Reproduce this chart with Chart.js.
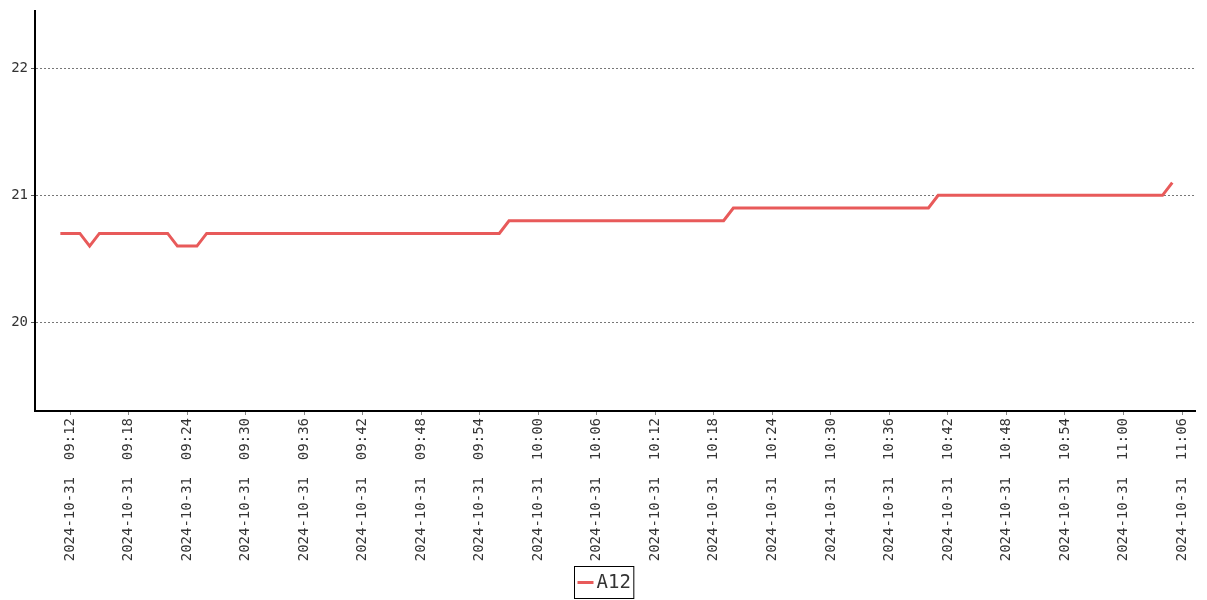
<!DOCTYPE html>
<html>
<head>
<meta charset="utf-8">
<script src="https://cdn.jsdelivr.net/npm/chart.js@4.4.1/dist/chart.umd.min.js"></script>
<style>
  html, body { margin: 0; padding: 0; background: #fff; }
  #wrap { width: 1207px; height: 600px; }
</style>
</head>
<body>
<div id="wrap"><canvas id="c" width="1207" height="600"></canvas></div>
<script>
const seriesName = "A12";
const datePrefix = "2024-10-31";
const tickTimes = ["09:12","09:18","09:24","09:30","09:36","09:42","09:48","09:54","10:00","10:06",
                   "10:12","10:18","10:24","10:30","10:36","10:42","10:48","10:54","11:00","11:06"];
const yTicks = [20, 21, 22];
const times = [
  "09:11","09:12","09:13","09:14","09:15","09:16","09:17","09:18","09:19","09:20",
  "09:21","09:22","09:23","09:24","09:25","09:26","09:27","09:28","09:29","09:30",
  "09:31","09:32","09:33","09:34","09:35","09:36","09:37","09:38","09:39","09:40",
  "09:41","09:42","09:43","09:44","09:45","09:46","09:47","09:48","09:49","09:50",
  "09:51","09:52","09:53","09:54","09:55","09:56","09:57","09:58","09:59","10:00",
  "10:01","10:02","10:03","10:04","10:05","10:06","10:07","10:08","10:09","10:10",
  "10:11","10:12","10:13","10:14","10:15","10:16","10:17","10:18","10:19","10:20",
  "10:21","10:22","10:23","10:24","10:25","10:26","10:27","10:28","10:29","10:30",
  "10:31","10:32","10:33","10:34","10:35","10:36","10:37","10:38","10:39","10:40",
  "10:41","10:42","10:43","10:44","10:45","10:46","10:47","10:48","10:49","10:50",
  "10:51","10:52","10:53","10:54","10:55","10:56","10:57","10:58","10:59","11:00",
  "11:01","11:02","11:03","11:04","11:05"
];
const values = [
  20.7,20.7,20.7,20.6,20.7,20.7,20.7,20.7,20.7,20.7,
  20.7,20.7,20.6,20.6,20.6,20.7,20.7,20.7,20.7,20.7,
  20.7,20.7,20.7,20.7,20.7,20.7,20.7,20.7,20.7,20.7,
  20.7,20.7,20.7,20.7,20.7,20.7,20.7,20.7,20.7,20.7,
  20.7,20.7,20.7,20.7,20.7,20.7,20.8,20.8,20.8,20.8,
  20.8,20.8,20.8,20.8,20.8,20.8,20.8,20.8,20.8,20.8,
  20.8,20.8,20.8,20.8,20.8,20.8,20.8,20.8,20.8,20.9,
  20.9,20.9,20.9,20.9,20.9,20.9,20.9,20.9,20.9,20.9,
  20.9,20.9,20.9,20.9,20.9,20.9,20.9,20.9,20.9,20.9,
  21.0,21.0,21.0,21.0,21.0,21.0,21.0,21.0,21.0,21.0,
  21.0,21.0,21.0,21.0,21.0,21.0,21.0,21.0,21.0,21.0,
  21.0,21.0,21.0,21.0,21.1
];

const toMin = s => { const p = s.split(":"); return (+p[0]) * 60 + (+p[1]); };
const fmt = m => { const h = Math.floor(m / 60), mm = Math.round(m % 60);
  return datePrefix + "  " + String(h).padStart(2, "0") + ":" + String(mm).padStart(2, "0"); };

const FONT = "'DejaVu Sans Mono', 'Liberation Mono', monospace";
const lineColor = "#e85a5a";

const boxLegend = {
  id: "boxLegend",
  afterDraw(chart) {
    const ctx = chart.ctx;
    const ds = chart.data.datasets[0];
    ctx.save();
    ctx.font = "19px " + FONT;
    const tw = ctx.measureText(ds.label).width;
    const sample = 16, gap = 3, padL = 3, padR = 3;
    const w = padL + sample + gap + tw + padR;
    const h = 32;
    const x0 = Math.round(chart.width / 2 - w / 2) + 0.5;
    const y0 = 566.5;
    ctx.strokeStyle = "#000";
    ctx.lineWidth = 1;
    ctx.strokeRect(x0, y0, w, h);
    ctx.strokeStyle = ds.borderColor;
    ctx.lineWidth = 3;
    ctx.beginPath();
    ctx.moveTo(x0 + padL, y0 + h / 2);
    ctx.lineTo(x0 + padL + sample, y0 + h / 2);
    ctx.stroke();
    ctx.fillStyle = "#333";
    ctx.textBaseline = "middle";
    ctx.textAlign = "left";
    ctx.fillText(ds.label, x0 + padL + sample + gap, y0 + h / 2 + 1);
    ctx.restore();
  }
};

new Chart(document.getElementById("c"), {
  type: "line",
  data: {
    datasets: [{
      label: seriesName,
      data: times.map((t, i) => ({ x: toMin(t), y: values[i] })),
      borderColor: lineColor,
      backgroundColor: lineColor,
      borderWidth: 3,
      pointRadius: 0,
      tension: 0,
      fill: false
    }]
  },
  options: {
    responsive: false,
    animation: false,
    devicePixelRatio: 1,
    layout: { padding: { top: 10, right: 12, left: 0, bottom: 0 } },
    plugins: { legend: { display: false }, tooltip: { enabled: false } },
    scales: {
      x: {
        type: "linear",
        min: toMin(tickTimes[0]) - 3.6,
        max: toMin(tickTimes[tickTimes.length - 1]) + 1.33,
        afterBuildTicks: s => { s.ticks = tickTimes.map(t => ({ value: toMin(t) })); },
        afterFit: s => { s.height = 189; },
        border: { display: true, color: "#000", width: 2 },
        grid: { drawOnChartArea: false, drawTicks: true, tickLength: 4, tickColor: "#888" },
        ticks: {
          autoSkip: false, minRotation: 90, maxRotation: 90, padding: 3,
          color: "#333", font: { family: FONT, size: 14 },
          callback: v => fmt(v)
        }
      },
      y: {
        type: "linear",
        min: 19.3,
        max: 22.45,
        afterBuildTicks: s => { s.ticks = yTicks.map(v => ({ value: v })); },
        afterFit: s => { s.width = 35; },
        border: { display: true, color: "#000", width: 2, dash: [2, 2] },
        grid: { drawOnChartArea: true, color: "#777", lineWidth: 1,
                drawTicks: true, tickLength: 4, tickColor: "#555", tickBorderDash: [] },
        ticks: { padding: 3, color: "#333", font: { family: FONT, size: 14 }, callback: v => String(v) }
      }
    }
  },
  plugins: [boxLegend]
});
</script>
</body>
</html>
